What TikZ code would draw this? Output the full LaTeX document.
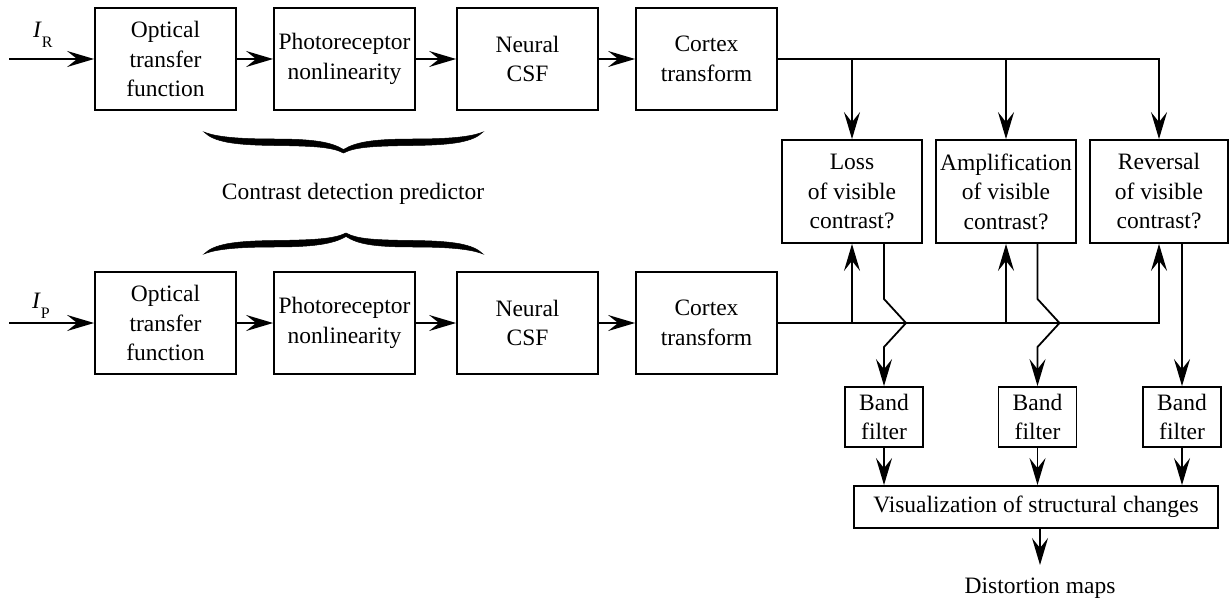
\documentclass[tikz,border=0pt]{standalone}
\usepackage{fontspec}
\setmainfont{Liberation Serif}
\usetikzlibrary{arrows.meta}
\begin{document}
\begin{tikzpicture}[x=1pt,y=-1pt,
  every node/.style={font=\fontsize{23.5}{29.5}\selectfont, inner sep=0pt},
  box/.style={draw, line width=1.8pt, align=center, minimum width=141pt, minimum height=102pt},
  rbox/.style={draw, line width=1.8pt, align=center, minimum width=140pt, minimum height=103pt},
  band/.style={draw, line width=1.8pt, align=center, minimum width=78pt, minimum height=60pt},
  conn/.style={line width=1.8pt},
  arr/.style={line width=1.8pt, -{Stealth[length=27pt,width=16pt,inset=10pt]}},
  bracefill/.style={fill=black, draw=black, line width=0.5pt}
]
\useasboundingbox (0,0) rectangle (1230,604);

% top row
\node[box] (o1) at (165.5,59) {Optical\\transfer\\function};
\node[box] (p1) at (344.5,59) {Photoreceptor\\nonlinearity};
\node[box] (n1) at (527.5,59) {Neural\\CSF};
\node[box] (c1) at (706.5,59) {Cortex\\transform};
% bottom row
\node[box] (o2) at (165.5,323) {Optical\\transfer\\function};
\node[box] (p2) at (344.5,323) {Photoreceptor\\nonlinearity};
\node[box] (n2) at (527.5,323) {Neural\\CSF};
\node[box] (c2) at (706.5,323) {Cortex\\transform};

% inputs
\node[anchor=base west] (lr) at (33,38) {\textit{I}\raisebox{-10pt}{\fontsize{16}{16}\selectfont R}};
\node[anchor=base west] (lp) at (32,308) {\textit{I}\raisebox{-10pt}{\fontsize{16}{16}\selectfont P}};
\coordinate (sr) at (9,59);
\coordinate (sp) at (9,323);
\draw[arr] (sr) -- (o1.west);
\draw[arr] (sp) -- (o2.west);

\draw[arr] (o1.east) -- (p1.west);
\draw[arr] (p1.east) -- (n1.west);
\draw[arr] (n1.east) -- (c1.west);
\draw[arr] (o2.east) -- (p2.west);
\draw[arr] (p2.east) -- (n2.west);
\draw[arr] (n2.east) -- (c2.west);

% braces
\begin{scope}[shift={(204,132)}]
\filldraw[bracefill] (0,0) .. controls (10,10) and (30,13) .. (70,13.5)
  .. controls (110,14) and (128,15) .. (139.5,21)
  .. controls (151,15) and (169,14) .. (209,13.5)
  .. controls (249,13) and (269,10) .. (279,0)
  .. controls (267,5) and (244,7) .. (209,7)
  .. controls (169,7) and (152,10) .. (139.5,17.5)
  .. controls (127,10) and (110,7) .. (70,7)
  .. controls (35,7) and (12,5) .. (0,0) -- cycle;
\end{scope}
\begin{scope}[shift={(204,254)}, yscale=-1]
\filldraw[bracefill] (0,0) .. controls (10,10) and (30,13) .. (70,13.5)
  .. controls (110,14) and (130,15) .. (142,21)
  .. controls (153,15) and (169,14) .. (209,13.5)
  .. controls (249,13) and (269,10) .. (279,0)
  .. controls (267,5) and (244,7) .. (209,7)
  .. controls (169,7) and (154,10) .. (142,17.5)
  .. controls (129,10) and (110,7) .. (70,7)
  .. controls (35,7) and (12,5) .. (0,0) -- cycle;
\end{scope}
\node[anchor=base] (cdp) at (353,200) {Contrast detection predictor};

% comparison boxes
\node[rbox] (loss) at (852,191.5) {Loss\\of visible\\contrast?};
\node[rbox] (amp) at (1006,191.5) {Amplification\\of visible\\contrast?};
\node[rbox, minimum width=138pt] (rev) at (1159,191.5) {Reversal\\of visible\\contrast?};

\draw[arr] (c1.east) -- (c1.east -| rev.north) -- (rev.north);
\draw[arr] (c1.east -| loss.north) -- (loss.north);
\draw[arr] (c1.east -| amp.north) -- (amp.north);
\draw[arr] (c2.east) -- (c2.east -| rev.south) -- (rev.south);
\draw[arr] (c2.east -| loss.south) -- (loss.south);
\draw[arr] (c2.east -| amp.south) -- (amp.south);

% band filters
\node[band] (b1) at (884,417) {Band\\filter};
\node[band] (b2) at (1037.5,417) {Band\\filter};
\node[band] (b3) at (1182,417) {Band\\filter};

\coordinate (l1) at (884,299);
\coordinate (l2) at (906,323);
\coordinate (l3) at (884,347);
\coordinate (a1) at (1037.5,299);
\coordinate (a2) at (1059.5,323);
\coordinate (a3) at (1037.5,347);
\draw[arr] (loss.south -| b1.north) -- (l1) -- (l2) -- (l3) -- (b1.north);
\draw[arr] (amp.south -| b2.north) -- (a1) -- (a2) -- (a3) -- (b2.north);
\draw[arr] (rev.south -| b3.north) -- (b3.north);

% visualization
\node[draw, line width=1.8pt, minimum width=364pt, minimum height=42pt] (vis) at (1036,507) {Visualization of structural changes};
\draw[arr] (b1.south) -- (b1.south |- vis.north);
\draw[arr] (b2.south) -- (b2.south |- vis.north);
\draw[arr] (b3.south) -- (b3.south |- vis.north);

\node[anchor=base] (dist) at (1040,593) {Distortion maps};
\coordinate (dt) at (1040,565);
\draw[arr] (vis.south -| dt) -- (dt);
\end{tikzpicture}
\end{document}
